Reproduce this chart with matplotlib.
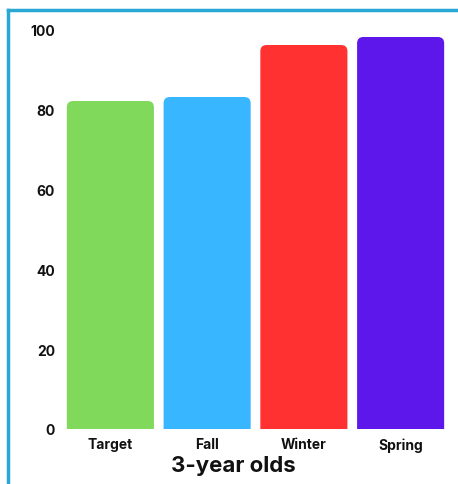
import matplotlib
matplotlib.use("Agg")
import matplotlib.pyplot as plt
from matplotlib.patches import FancyBboxPatch
from matplotlib.lines import Line2D

categories = ["Target", "Fall", "Winter", "Spring"]
values = [82, 83, 96, 98]
colors = ["#80d95a", "#38b6ff", "#ff3131", "#5e17eb"]
title = "3-year olds"

plt.rcParams['font.family'] = ['Inter', 'DejaVu Sans']

W, H = 458, 485
fig = plt.figure(figsize=(W / 100, H / 100), dpi=100)
ax = fig.add_axes([62 / W, (H - 430) / H, (449 - 62) / W, 400 / H])

bars = ax.bar(range(len(categories)), values, width=0.9, color=colors)
# swap the plain bars for ones with rounded top corners;
# the bottom corners hang below y=0 and get clipped away
for b, c in zip(bars, colors):
    b.set_visible(False)
    x, w, h = b.get_x(), b.get_width(), b.get_height()
    ax.add_patch(FancyBboxPatch((x, -3), w, h + 3, boxstyle="round,pad=0,rounding_size=0.065",
                                mutation_aspect=24, fc=c, ec="none"))

ax.set_xlim(-0.5, len(categories) - 0.5)
ax.set_ylim(0, 100)
ax.set_yticks([0, 20, 40, 60, 80, 100])
ax.set_xticks(range(len(categories)))
ax.set_xticklabels(categories)
for s in ax.spines.values():
    s.set_visible(False)
ax.tick_params(length=0, labelsize=10, colors="#111111")
ax.tick_params(axis="x", pad=6)
ax.tick_params(axis="y", pad=5)
for lab in ax.get_xticklabels() + ax.get_yticklabels():
    lab.set_fontweight("bold")

fig.text(233 / W, 1 - 466 / H, title, ha="center", va="center", fontsize=16,
         fontweight="bold", color="#111111")

# blue frame on left and top
blue = "#29a8d6"
fig.add_artist(Line2D([7.5 / W, 7.5 / W], [0, 1 - 10.5 / H], color=blue, lw=2.5,
                      transform=fig.transFigure, solid_capstyle="projecting"))
fig.add_artist(Line2D([7.5 / W, 1], [1 - 10.5 / H, 1 - 10.5 / H], color=blue, lw=2.5,
                      transform=fig.transFigure, solid_capstyle="projecting"))

fig.savefig("out.png", dpi=100)
